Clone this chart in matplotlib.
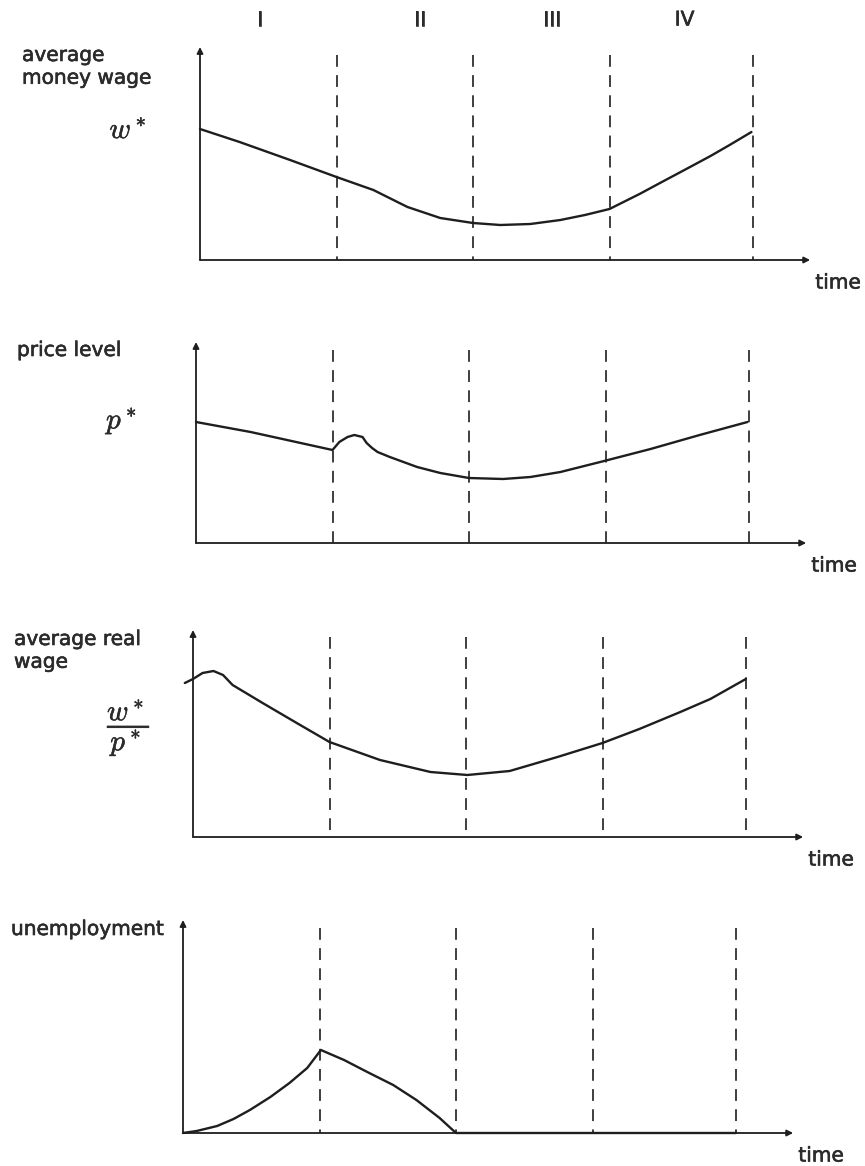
import matplotlib
matplotlib.use("Agg")
import matplotlib.pyplot as plt
import matplotlib.patheffects as pe

W, H = 865, 1166
XPX, YPX = 136.5, 100.0  # pixels per time unit / per value unit

plt.rcParams["font.family"] = ["DejaVu Sans"]
plt.rcParams["mathtext.fontset"] = "cm"
plt.rcParams["lines.scale_dashes"] = False

INK = "#1e1e1e"
TXT = "#2b2b2b"
BOLDISH = [pe.withStroke(linewidth=0.45, foreground=TXT)]

periods = ["I", "II", "III", "IV"]
period_t = [0.44, 1.61, 2.58, 3.55]
boundaries = [1.0, 2.0, 3.0, 4.05]
t_max = 4.47

# average money wage
wage_t = [0.0, 0.29, 0.66, 1.0, 1.27, 1.52, 1.76, 2.0, 2.2, 2.42, 2.64,
          2.82, 3.0, 3.22, 3.37, 3.59, 3.74, 3.88, 4.04]
wage_y = [1.31, 1.18, 1.00, 0.83, 0.70, 0.53, 0.42, 0.37, 0.35, 0.36, 0.40,
          0.45, 0.51, 0.66, 0.77, 0.93, 1.04, 1.15, 1.28]

# price level
price_t = [0.0, 0.40, 1.0, 1.05, 1.11, 1.16, 1.22, 1.25, 1.29, 1.33, 1.42,
           1.62, 1.79, 2.0, 2.25, 2.45, 2.67, 2.99, 3.33, 3.69, 4.04]
price_y = [1.21, 1.11, 0.93, 1.01, 1.06, 1.08, 1.06, 1.00, 0.95, 0.91, 0.86,
           0.76, 0.70, 0.65, 0.64, 0.66, 0.71, 0.82, 0.94, 1.08, 1.21]

# average real wage
real_t = [-0.06, 0.0, 0.07, 0.15, 0.22, 0.29, 0.40, 0.51, 0.76, 1.0, 1.37,
          1.74, 2.01, 2.32, 2.67, 3.0, 3.27, 3.57, 3.79, 4.05]
real_y = [1.54, 1.58, 1.64, 1.66, 1.62, 1.52, 1.43, 1.34, 1.14, 0.95, 0.77,
          0.65, 0.62, 0.66, 0.80, 0.94, 1.08, 1.25, 1.38, 1.58]

# unemployment
unemp_t = [0.0, 0.10, 0.25, 0.37, 0.49, 0.64, 0.78, 0.91, 1.01, 1.18, 1.35,
           1.54, 1.71, 1.88, 2.0, 4.05]
unemp_y = [0.0, 0.02, 0.07, 0.14, 0.23, 0.36, 0.50, 0.65, 0.83, 0.73, 0.61,
           0.48, 0.33, 0.15, 0.0, 0.0]

panels = [
    dict(ox=200, oy=260, top=2.13, dash=2.05, t=wage_t, y=wage_y,
         label="average\nmoney wage", lab=(22, 46), sym=r"$w^*$", sym_xy=(128, 130)),
    dict(ox=196, oy=543, top=2.01, dash=1.93, t=price_t, y=price_y,
         label="price level", lab=(17, 341), sym=r"$p^*$", sym_xy=(122, 421)),
    dict(ox=193, oy=837, top=2.07, dash=2.00, t=real_t, y=real_y,
         label="average real\nwage", lab=(14, 630), sym=r"$\dfrac{w^*}{p^*}$", sym_xy=(129, 728)),
    dict(ox=183, oy=1133, top=2.13, dash=2.05, t=unemp_t, y=unemp_y,
         label="unemployment", lab=(11, 920), sym=None, sym_xy=None),
]

fig = plt.figure(figsize=(W / 100, H / 100), dpi=100)
fig.patch.set_facecolor("white")

for i, p in enumerate(panels):
    width = t_max * XPX
    height = p["top"] * YPX
    ax = fig.add_axes([p["ox"] / W, 1 - p["oy"] / H, width / W, height / H])
    ax.set_xlim(0, t_max)
    ax.set_ylim(0, p["top"])
    ax.axis("off")

    # axes with arrow heads
    arrow = dict(arrowstyle="-|>", lw=1.3, color=INK, shrinkA=0, shrinkB=0,
                 mutation_scale=9)
    ax.annotate("", xy=(0, p["top"]), xytext=(0, 0), arrowprops=arrow,
                annotation_clip=False)
    ax.annotate("", xy=(t_max, 0), xytext=(0, 0), arrowprops=arrow,
                annotation_clip=False)

    for b in boundaries:
        ax.plot([b, b], [p["dash"], 0], color=INK, lw=1.2,
                ls=(0, (8.5, 6)), clip_on=False)

    ax.plot(p["t"], p["y"], color=INK, lw=1.7, clip_on=False,
            solid_capstyle="round", solid_joinstyle="round")

    ax.annotate("time", xy=(t_max, 0), xytext=(28, -23),
                textcoords="offset pixels", ha="center", va="center",
                fontsize=14.5, color=TXT, path_effects=BOLDISH)

    fig.text(p["lab"][0] / W, 1 - p["lab"][1] / H, p["label"],
             ha="left", va="top", fontsize=14.5, color=TXT, linespacing=1.25,
             path_effects=BOLDISH)
    if p["sym"]:
        fig.text(p["sym_xy"][0] / W, 1 - p["sym_xy"][1] / H, p["sym"],
                 ha="center", va="center", fontsize=21, color=TXT,
                 path_effects=[pe.withStroke(linewidth=0.4, foreground=TXT)])

    if i == 0:
        for name, tt in zip(periods, period_t):
            ax.text(tt, p["top"] + 0.27, name, ha="center", va="center",
                    fontsize=14.5, color=TXT, clip_on=False,
                    path_effects=BOLDISH)

fig.savefig("out.png", dpi=100, facecolor="white")
